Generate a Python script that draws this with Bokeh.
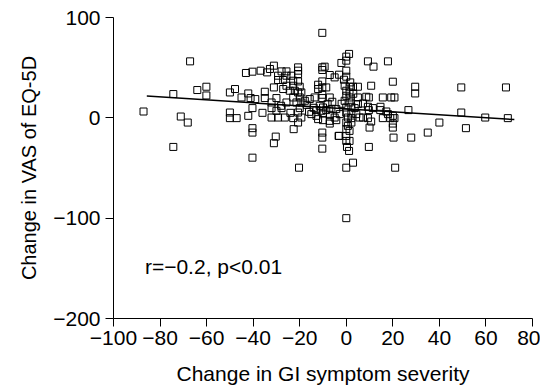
from bokeh.plotting import figure
from bokeh.models import Range1d, FixedTicker, CustomJSTickFormatter, Label
from bokeh.embed import file_html
from bokeh.resources import INLINE

# Change in GI symptom severity (x) vs change in VAS of EQ-5D (y)
gi_change = [
    -87.1, -74.3, -67.1, -71.1, -68.1, -74.3, -64.0, -60.1, -60.1, -50.0,
    -47.8, -50.0, -50.0, -47.1, -45.0, -43.1, -40.3, -36.8, -34.0, -32.8,
    -31.1, -42.1, -41.1, -39.1, -40.3, -42.1, -35.0, -35.0, -40.3, -40.3,
    -30.3, -31.1, -40.3, -32.1, -32.1, -30.0, -31.1, -29.3, -27.8, -25.7,
    -29.3, -27.1, -25.7, -23.6, -22.8, -25.7, -22.8, -27.1, -24.3, -22.1,
    -32.1, -29.3, -26.4, -30.0, -27.8, -25.7, -22.8, -20.7, -20.7, -20.7,
    -20.7, -20.0, -20.7, -19.3, -20.0, -21.4, -19.3, -20.0, -20.7, -19.3,
    -20.7, -22.8, -22.6, -17.8, -15.7, -13.6, -20.3, -10.3, -10.3, -9.3,
    -10.3, -7.1, -5.0, -3.1, -10.3, -12.1, -12.1, -10.3, -8.6, -10.3,
    -10.3, -7.1, -11.4, -10.0, -12.8, -10.7, -8.6, -6.4, -4.3, -15.0,
    -12.8, -10.0, -7.1, -5.0, -2.8, -12.1, -10.0, -7.1, -4.3, -10.3,
    -10.3, -7.1, -3.1, -10.3, 1.2, 0.0, 0.0, -2.1, 0.0, 0.0,
    1.7, -0.7, 1.4, 2.9, 5.0, 0.0, 1.4, 0.0, 1.4, -0.7,
    1.4, 0.0, 2.2, 3.6, 0.0, 2.2, 4.3, 5.7, 0.7, 2.2,
    0.0, 2.2, 0.7, 0.0, 1.4, 0.0, 0.0, 1.4, 0.3, 1.2,
    0.0, 2.9, 9.3, 11.7, 17.9, 10.7, 8.6, 9.7, 15.7, 19.3,
    20.7, 7.2, 5.0, 9.3, 9.7, 11.4, 14.6, 17.2, 17.9, 20.0,
    7.2, 9.3, 10.7, 15.7, 18.9, 20.7, 10.0, 20.0, 20.0, 20.3,
    9.7, 21.0, 20.0, 26.7, 27.9, 29.6, 29.6, 35.0, 40.0, 49.4,
    49.4, 51.4, 59.7, 68.6, 69.4, 0.0, 14.7, 5.0, -3.3, -8.0,
    -14.0, -17.0, -24.0, -28.0, -36.0, -2.0, 3.0, -6.0, -16.0, -1.0,
]
vas_change = [
    6.3, 23.7, 56.3, 1.3, -4.7, -29.0, 27.7, 31.0, 22.3, 25.3,
    28.7, 5.3, -0.3, -0.3, 20.3, 44.7, 46.0, 47.0, 45.3, 48.7,
    52.0, 24.3, 19.7, 18.7, 9.7, 2.0, 26.0, 19.7, -10.3, -14.7,
    -18.7, -25.3, -39.7, 15.3, 9.7, 19.7, 30.3, 42.0, 46.3, 46.3,
    37.7, 37.7, 42.0, 42.0, 37.0, 32.0, 32.0, 28.7, 27.0, 27.0,
    0.3, 0.3, 0.3, 7.0, 9.7, 15.3, 20.3, 50.3, 47.0, 43.7,
    36.3, 31.0, 25.3, 25.3, 20.3, 15.3, 15.3, 9.7, 5.3, 0.3,
    -4.7, -0.3, -11.3, 17.0, 18.7, 20.3, -49.7, 84.7, 50.3, 51.0,
    47.7, 42.7, 40.3, 43.0, 36.3, 33.0, 28.7, 30.3, 30.3, 23.0,
    19.7, 20.3, 12.0, 10.3, 7.7, 7.0, 7.7, 8.7, 8.7, 3.7,
    2.0, 4.3, 3.0, 0.3, 3.7, -1.3, -2.3, -3.0, -2.3, -14.7,
    -19.7, -5.7, -18.0, -30.7, 63.7, 61.0, 57.0, 54.7, 47.0, 41.0,
    35.3, 32.0, 31.0, 31.0, 31.0, 27.0, 25.3, 22.0, 20.3, 17.0,
    15.3, 10.3, 11.0, 9.7, 5.3, 4.3, 3.7, 0.3, 0.3, -0.3,
    -4.7, -4.7, -8.0, -11.3, -13.0, -18.0, -23.0, -23.0, -29.0, -33.0,
    -49.7, -44.7, 56.3, 51.0, 56.3, 32.0, 21.0, 20.3, 20.3, 20.3,
    20.3, 14.3, 13.7, 11.0, 7.7, 9.7, 7.7, 6.3, 3.7, 2.0,
    0.3, -0.3, -3.7, -0.3, -0.3, -0.3, -9.7, -5.7, -9.7, -19.7,
    -29.0, -49.7, 36.0, 7.7, -19.7, 31.0, 24.3, -14.7, -4.7, 30.3,
    5.3, -10.3, 0.3, 30.3, -0.3, -100.0, 11.0, 20.3, -18.0, 14.0,
    10.0, 13.0, 5.0, 12.0, 5.0, 14.0, 24.0, 16.0, 6.0, 38.0,
]

# regression line end points
fit_x = [-85.7, 72.2]
fit_y = [21.7, -1.7]

x_ticks = [-100, -80, -60, -40, -20, 0, 20, 40, 60, 80]
y_ticks = [-200, -100, 0, 100]

FONT = "Liberation Sans"

p = figure(width=540, height=387, output_backend="svg", toolbar_location=None,
           x_range=Range1d(-100, 80), y_range=Range1d(-200, 100),
           min_border_left=113, min_border_right=8, min_border_top=17,
           min_border_bottom=69)
p.outline_line_color = None
p.xgrid.visible = False
p.ygrid.visible = False
p.background_fill_color = "white"

p.scatter(gi_change, vas_change, marker="square", size=7, fill_color=None,
          line_color="black", line_width=1)
p.line(fit_x, fit_y, line_color="black", line_width=1.5)

fmt = CustomJSTickFormatter(code="return tick < 0 ? '\u2212' + Math.abs(tick) : '' + tick;")

for ax, ticks, lab in ((p.xaxis[0], x_ticks, "Change in GI symptom severity"),
                       (p.yaxis[0], y_ticks, "Change in VAS of EQ-5D")):
    ax.ticker = FixedTicker(ticks=ticks)
    ax.formatter = fmt
    ax.minor_tick_line_color = None
    ax.major_tick_out = 8
    ax.major_tick_in = 0
    ax.axis_line_color = "black"
    ax.major_tick_line_color = "black"
    ax.major_label_text_font = FONT
    ax.major_label_text_font_size = "21px"
    ax.major_label_text_color = "black"
    ax.axis_label = lab
    ax.axis_label_text_font = FONT
    ax.axis_label_text_font_style = "normal"
    ax.axis_label_text_color = "black"

p.xaxis.axis_label_text_font_size = "21px"
p.yaxis.axis_label_text_font_size = "20px"
p.xaxis.major_label_standoff = 4
p.yaxis.major_label_standoff = 5
p.xaxis.axis_label_standoff = 14
p.yaxis.axis_label_standoff = 10

p.add_layout(Label(x=-86.5, y=-148, text="r=\u22120.2, p<0.01", text_font=FONT,
                   text_font_size="21px", text_baseline="middle", text_color="black"))

open("out.html", "w").write(file_html(p, INLINE))
